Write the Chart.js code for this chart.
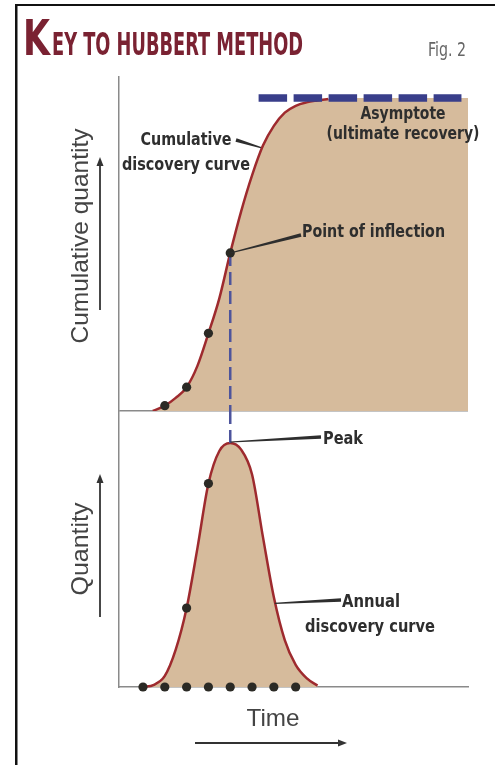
<!DOCTYPE html>
<html>
<head>
<meta charset="utf-8">
<script src="https://cdn.jsdelivr.net/npm/chart.js@4"></script>
<style>
  html, body { margin: 0; padding: 0; background: #fff; }
</style>
</head>
<body>
<canvas id="hubbertChart" width="495" height="765"></canvas>
<script>
// time in arbitrary units, 0 = first discovery sample
var annualTimes = [0, 0.5, 1, 1.5, 2, 2.5, 3, 3.5, 4, 4.5, 5, 5.5, 6, 6.5, 7, 7.5, 8];
var annualValues = [0, 0.8, 4, 13.5, 28.6, 50.5, 73.7, 85.5, 88.4, 86, 77, 54.3, 32.5, 17, 8, 3.2, 0.5];

var cumulativeTimes = [0.45, 1, 1.5, 2, 2.5, 3, 3.5, 4, 4.5, 5, 5.5, 6, 6.5, 7, 7.5, 8, 8.5, 9, 14.9];
var cumulativeValues = [0, 1.7, 4.2, 7.6, 14.5, 24.8, 36, 50.5, 63.8, 75.3, 84.8, 91.1, 95.3, 97.5, 98.6, 99.2, 99.7, 100, 100];

var sampleTimes = [0, 1, 2, 3, 4, 5, 6, 7];
var cumulativeDotTimes = [1, 2, 3, 4];
var cumulativeDotValues = [1.7, 7.6, 24.8, 50.5];
var annualDotTimes = [2, 3];
var annualDotValues = [28.6, 73.7];

var ultimateRecovery = 100;
var asymptoteTimes = [5.3, 14.6];
var inflectionTime = 4, inflectionValue = 50.5;
var peakTime = 4, peakValue = 88.4;
var redLineEnds = 8.5;

var tan = '#d6bb9c';
var curveRed = '#9e2a2e';
var dotColor = '#2b2a25';
var dashBlue = '#393e8a';
var axisGrey = '#8a8a8a';
var ink = '#2e2e2e';
var narrow = '"Liberation Sans Narrow", "DejaVu Sans Condensed", "Liberation Sans", sans-serif';

function pts(xs, ys) {
  return xs.map(function (x, i) { return { x: x, y: ys[i] }; });
}

var cumulativePoints = pts(cumulativeTimes, cumulativeValues);
var redCurvePoints = cumulativePoints.filter(function (p) { return p.x <= redLineEnds; });

function fitText(ctx, text, x, y, width, font, color, align, baseline) {
  ctx.save();
  ctx.font = font;
  ctx.fillStyle = color;
  ctx.textAlign = align || 'left';
  ctx.textBaseline = baseline || 'middle';
  var w = ctx.measureText(text).width;
  ctx.translate(x, y);
  ctx.scale(width / w, 1);
  ctx.fillText(text, 0, 0);
  ctx.restore();
}

// thin at (x1,y1), thick at (x2,y2)
function leader(ctx, x1, y1, x2, y2, w1, w2) {
  var dx = x2 - x1, dy = y2 - y1, len = Math.hypot(dx, dy);
  var nx = -dy / len, ny = dx / len;
  ctx.save();
  ctx.fillStyle = ink;
  ctx.beginPath();
  ctx.moveTo(x1 + nx * w1 / 2, y1 + ny * w1 / 2);
  ctx.lineTo(x2 + nx * w2 / 2, y2 + ny * w2 / 2);
  ctx.lineTo(x2 - nx * w2 / 2, y2 - ny * w2 / 2);
  ctx.lineTo(x1 - nx * w1 / 2, y1 - ny * w1 / 2);
  ctx.closePath();
  ctx.fill();
  ctx.restore();
}

function arrow(ctx, x1, y1, x2, y2) {
  var a = Math.atan2(y2 - y1, x2 - x1);
  ctx.save();
  ctx.strokeStyle = '#333';
  ctx.fillStyle = '#333';
  ctx.lineWidth = 1.8;
  ctx.beginPath();
  ctx.moveTo(x1, y1);
  ctx.lineTo(x2 - 6 * Math.cos(a), y2 - 6 * Math.sin(a));
  ctx.stroke();
  ctx.beginPath();
  ctx.moveTo(x2, y2);
  ctx.lineTo(x2 - 9 * Math.cos(a) + 3.5 * Math.sin(a), y2 - 9 * Math.sin(a) - 3.5 * Math.cos(a));
  ctx.lineTo(x2 - 9 * Math.cos(a) - 3.5 * Math.sin(a), y2 - 9 * Math.sin(a) + 3.5 * Math.cos(a));
  ctx.closePath();
  ctx.fill();
  ctx.restore();
}

var decor = {
  id: 'decor',
  beforeDraw: function (chart) {
    var ctx = chart.ctx;
    ctx.save();
    ctx.fillStyle = '#111';
    ctx.fillRect(15, 4, 480, 2);
    ctx.fillRect(15, 4, 2.5, 761);
    ctx.restore();
  },
  afterDraw: function (chart) {
    var ctx = chart.ctx;
    var x = chart.scales.x, yCum = chart.scales.yCum, yAnn = chart.scales.yAnn;

    // title
    fitText(ctx, 'K', 23, 55, 27, 'bold 49px ' + narrow, '#7a2232', 'left', 'alphabetic');
    fitText(ctx, 'EY TO HUBBERT METHOD', 52, 55, 251, 'bold 32px ' + narrow, '#7a2232', 'left', 'alphabetic');
    fitText(ctx, 'Fig. 2', 428, 56, 38, '19px ' + narrow, '#666', 'left', 'alphabetic');

    // axis labels
    ctx.save();
    ctx.translate(81, 236);
    ctx.rotate(-Math.PI / 2);
    fitText(ctx, 'Cumulative quantity', 0, 0, 215, '24px "Liberation Sans", Arial, sans-serif', '#444', 'center');
    ctx.restore();
    ctx.save();
    ctx.translate(81, 549);
    ctx.rotate(-Math.PI / 2);
    fitText(ctx, 'Quantity', 0, 0, 93, '24px "Liberation Sans", Arial, sans-serif', '#444', 'center');
    ctx.restore();
    fitText(ctx, 'Time', 273, 719, 53, '24px "Liberation Sans", Arial, sans-serif', '#444', 'center');
    arrow(ctx, 100, 310, 100, 157);
    arrow(ctx, 100, 617, 100, 474);
    arrow(ctx, 195, 743, 347, 743);

    // annotations
    var bold = 'bold 17px ' + narrow;
    fitText(ctx, 'Cumulative', 186, 141, 91, bold, ink, 'center');
    fitText(ctx, 'discovery curve', 186, 166, 128, bold, ink, 'center');
    var c = chart.getDatasetMeta(1).data[10];
    leader(ctx, c.x - 2, c.y + 2, 236, 140, 1.2, 3.5);

    fitText(ctx, 'Asymptote', 403, 115, 85, bold, ink, 'center');
    fitText(ctx, '(ultimate recovery)', 403, 135, 153, bold, ink, 'center');

    var ix = x.getPixelForValue(inflectionTime), iy = yCum.getPixelForValue(inflectionValue);
    leader(ctx, ix, iy, 301, 235, 1, 3.5);
    fitText(ctx, 'Point of inflection', 302, 233, 143, bold, ink, 'left');

    var px = x.getPixelForValue(peakTime), py = yAnn.getPixelForValue(peakValue);
    leader(ctx, px, py - 1, 321, 437, 1, 3.5);
    fitText(ctx, 'Peak', 323, 440, 40, bold, ink, 'left');

    var a = chart.getDatasetMeta(2).data[12];
    leader(ctx, a.x + 1, a.y + 6, 341, 600, 1.2, 3.5);
    fitText(ctx, 'Annual', 371, 603, 58, bold, ink, 'center');
    fitText(ctx, 'discovery curve', 370, 628, 130, bold, ink, 'center');
  }
};

var dotStyle = {
  showLine: false,
  pointRadius: 4.6,
  pointBackgroundColor: dotColor,
  pointBorderWidth: 0,
  clip: false,
  order: 1
};

new Chart('hubbertChart', {
  type: 'line',
  data: {
    datasets: [
      {
        label: 'Cumulative area',
        data: cumulativePoints,
        yAxisID: 'yCum',
        borderWidth: 0,
        borderColor: 'rgba(0,0,0,0)',
        backgroundColor: tan,
        fill: 'origin',
        pointRadius: 0,
        cubicInterpolationMode: 'monotone',
        order: 6
      },
      {
        label: 'Cumulative discovery curve',
        data: redCurvePoints,
        yAxisID: 'yCum',
        borderColor: curveRed,
        borderWidth: 2.5,
        fill: false,
        pointRadius: 0,
        cubicInterpolationMode: 'monotone',
        order: 5
      },
      {
        label: 'Annual discovery curve',
        data: pts(annualTimes, annualValues),
        yAxisID: 'yAnn',
        borderColor: curveRed,
        borderWidth: 2.5,
        backgroundColor: tan,
        fill: 'origin',
        pointRadius: 0,
        cubicInterpolationMode: 'monotone',
        clip: false,
        order: 5
      },
      {
        data: [{ x: inflectionTime, y: inflectionValue }, { x: inflectionTime, y: 0 }],
        yAxisID: 'yCum',
        borderColor: '#4d549c',
        borderWidth: 2.5,
        borderDash: [13, 6],
        pointRadius: 0,
        fill: false,
        order: 3
      },
      {
        data: [{ x: peakTime, y: 100 }, { x: peakTime, y: peakValue }],
        yAxisID: 'yAnn',
        borderColor: '#4d549c',
        borderWidth: 2.5,
        borderDash: [13, 6],
        pointRadius: 0,
        fill: false,
        order: 3
      },
      {
        label: 'Asymptote',
        data: pts(asymptoteTimes, [ultimateRecovery, ultimateRecovery]),
        yAxisID: 'yCum',
        borderColor: dashBlue,
        borderWidth: 7.5,
        borderDash: [28.5, 6.5],
        borderCapStyle: 'butt',
        pointRadius: 0,
        fill: false,
        order: 2
      },
      Object.assign({ data: pts(cumulativeDotTimes, cumulativeDotValues), yAxisID: 'yCum' }, dotStyle),
      Object.assign({ data: pts(annualDotTimes, annualDotValues), yAxisID: 'yAnn' }, dotStyle),
      Object.assign({ data: pts(sampleTimes, sampleTimes.map(function () { return 0; })), yAxisID: 'yAnn' }, dotStyle)
    ]
  },
  options: {
    responsive: false,
    animation: false,
    layout: { padding: { left: 119, right: 27, top: 77, bottom: 78 } },
    plugins: {
      legend: { display: false },
      tooltip: { enabled: false }
    },
    scales: {
      x: {
        type: 'linear',
        min: -1.1,
        max: 14.9,
        grid: { display: false, drawTicks: false },
        ticks: { display: false },
        border: { display: true, color: axisGrey, width: 1.5 }
      },
      yAnn: {
        type: 'linear',
        position: 'left',
        stack: 'hubbert',
        stackWeight: 276,
        min: 0,
        max: 100,
        grid: { display: false, drawTicks: false },
        ticks: { display: false },
        border: { display: true, color: axisGrey, width: 1.5 }
      },
      yCum: {
        type: 'linear',
        position: 'left',
        stack: 'hubbert',
        stackWeight: 334,
        min: 0,
        max: 106.7,
        grid: {
          drawTicks: false,
          lineWidth: 1.5,
          color: function (ctx) { return ctx.tick && ctx.tick.value === 0 ? axisGrey : 'rgba(0,0,0,0)'; }
        },
        ticks: { display: false },
        border: { display: true, color: axisGrey, width: 1.5 }
      }
    }
  },
  plugins: [decor]
});
</script>
</body>
</html>
